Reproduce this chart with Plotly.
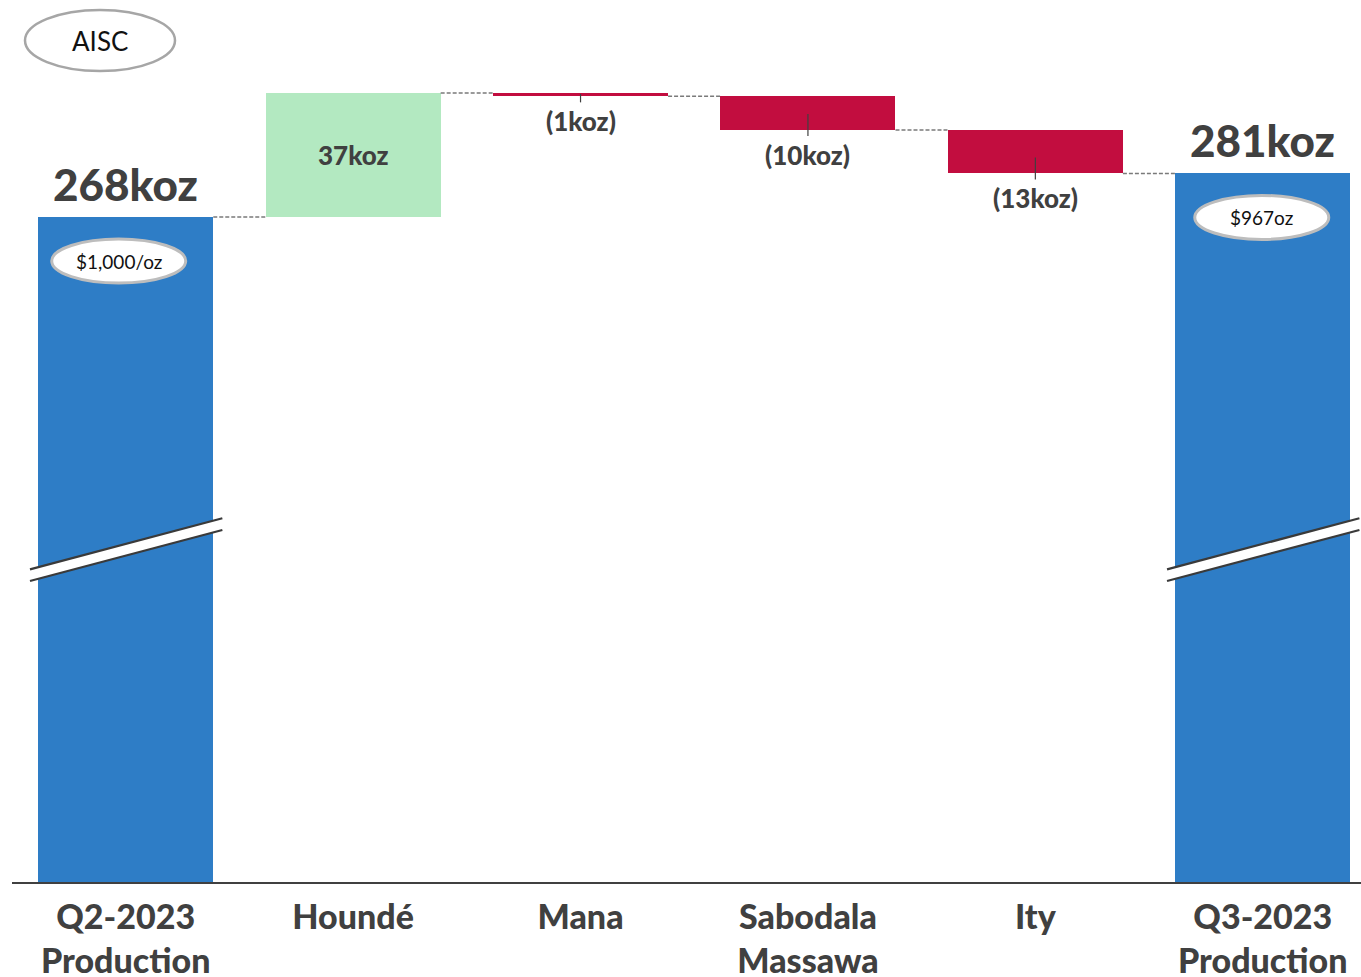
import plotly.graph_objects as go

# ---- data ----
categories = ["Q2-2023<br>Production", "Houndé", "Mana", "Sabodala<br>Massawa", "Ity", "Q3-2023<br>Production"]
start_value = 268
changes = [37, -1, -10, -13]
end_value = 281
aisc_start = "$1,000/oz"
aisc_end = "$967oz"

bar_colors = ["#2E7DC6", "#B3E9C1", "#C20D3F", "#C20D3F", "#C20D3F", "#2E7DC6"]
TXT = "#404040"
FONT = "Lato"

# ---- derived waterfall geometry ----
bases, heights, levels = [0], [start_value], [start_value]
cum = start_value
for c in changes:
    new = cum + c
    bases.append(min(cum, new))
    heights.append(abs(c))
    cum = new
    levels.append(cum)
bases.append(0)
heights.append(end_value)
levels.append(end_value)

x_idx = list(range(len(categories)))
BW = 0.77
y_lo, y_hi = 69.55, 332.76
PX_PER_UNIT = 882 / (y_hi - y_lo)

fig = go.Figure()
fig.add_trace(go.Bar(
    x=x_idx, y=heights, base=bases, width=BW,
    marker=dict(color=bar_colors, line=dict(width=0)),
    hoverinfo="skip", showlegend=False,
))

shapes = []
annotations = []

# connectors
for i in range(len(categories) - 1):
    lvl = levels[i]
    shapes.append(dict(type="line", xref="x", yref="y",
                       x0=i + BW / 2, x1=i + 1 - BW / 2, y0=lvl, y1=lvl,
                       line=dict(color="#7A7A7A", width=1.5, dash="4px,2px")))

# totals labels
for i, v in [(0, start_value), (len(categories) - 1, end_value)]:
    annotations.append(dict(x=i, y=v, xref="x", yref="y", text=f"{v}koz",
                            showarrow=False, xanchor="center", yanchor="middle", yshift=33,
                            font=dict(family=FONT, size=44, color=TXT, weight=900)))

# change labels
for k, c in enumerate(changes):
    i = k + 1
    if c > 0:
        annotations.append(dict(x=i, y=bases[i] + heights[i] / 2, xref="x", yref="y",
                                text=f"{c}koz", showarrow=False,
                                xanchor="center", yanchor="middle",
                                font=dict(family=FONT, size=26, color=TXT, weight=900)))
    else:
        bottom = bases[i]
        hpx = heights[i] * PX_PER_UNIT
        shapes.append(dict(type="line", xref="x", yref="y", ysizemode="pixel",
                           yanchor=bottom, x0=i, x1=i, y0=-6, y1=min(16, hpx - 1),
                           line=dict(color=TXT, width=1.2)))
        annotations.append(dict(x=i, y=bottom, xref="x", yref="y",
                                text=f"({abs(c)}koz)", showarrow=False,
                                xanchor="center", yanchor="middle", yshift=-25,
                                font=dict(family=FONT, size=26, color=TXT, weight=900)))

# axis break marks on total bars
for i in [0, len(categories) - 1]:
    xa, xb = i - 0.421, i + 0.425
    ya_top, yb_top = 0.3545, 0.4124
    ya_bot, yb_bot = 0.3413, 0.3991
    shapes.append(dict(type="path", xref="x", yref="paper",
                       path=f"M {xa} {ya_top} L {xb} {yb_top} L {xb} {yb_bot} L {xa} {ya_bot} Z",
                       fillcolor="white", line=dict(width=0)))
    shapes.append(dict(type="line", xref="x", yref="paper", x0=xa, x1=xb, y0=ya_top, y1=yb_top,
                       line=dict(color="#3A3A3A", width=2.2)))
    shapes.append(dict(type="line", xref="x", yref="paper", x0=xa, x1=xb, y0=ya_bot, y1=yb_bot,
                       line=dict(color="#3A3A3A", width=2.2)))

# AISC bubbles on total bars
for i, v, txt, dx, dy in [(0, start_value, aisc_start, -7, -44),
                          (len(categories) - 1, end_value, aisc_end, -1, -44)]:
    shapes.append(dict(type="circle", xref="x", yref="y", xsizemode="pixel", ysizemode="pixel",
                       xanchor=i, yanchor=v, x0=dx - 67, x1=dx + 67, y0=dy - 22, y1=dy + 22,
                       fillcolor="white", line=dict(color="#BDBDBD", width=3)))
    annotations.append(dict(x=i, y=v, xref="x", yref="y", text=txt, showarrow=False,
                            xanchor="center", yanchor="middle", xshift=dx, yshift=dy,
                            font=dict(family=FONT, size=19, color="#111111")))

# AISC legend ellipse
shapes.append(dict(type="circle", xref="paper", yref="paper",
                   x0=(25 - 12) / 1349, x1=(175 - 12) / 1349,
                   y0=(882 - 71) / 882, y1=(882 - 10) / 882,
                   fillcolor="white", line=dict(color="#A6A6A6", width=2.5)))
annotations.append(dict(x=(100 - 12) / 1349, y=(882 - 41) / 882, xref="paper", yref="paper",
                        text="AISC", showarrow=False, xanchor="center", yanchor="middle",
                        font=dict(family=FONT, size=26, color="#111111")))

fig.update_layout(
    width=1361, height=977,
    margin=dict(l=12, r=0, t=0, b=95),
    paper_bgcolor="white", plot_bgcolor="white",
    shapes=shapes, annotations=annotations,
    bargap=0, showlegend=False,
    xaxis=dict(range=[-0.5, 5.432], tickvals=x_idx, ticktext=categories,
               showgrid=False, zeroline=False, showline=True, linecolor="#404040", linewidth=2,
               ticks="", automargin=False, fixedrange=True, ticklabelstandoff=4,
               tickfont=dict(family=FONT, size=34, color=TXT, weight=900)),
    yaxis=dict(range=[y_lo, y_hi], visible=False, showgrid=False, zeroline=False,
               automargin=False, fixedrange=True),
)

fig.write_html("out.html", config={"displayModeBar": False})
